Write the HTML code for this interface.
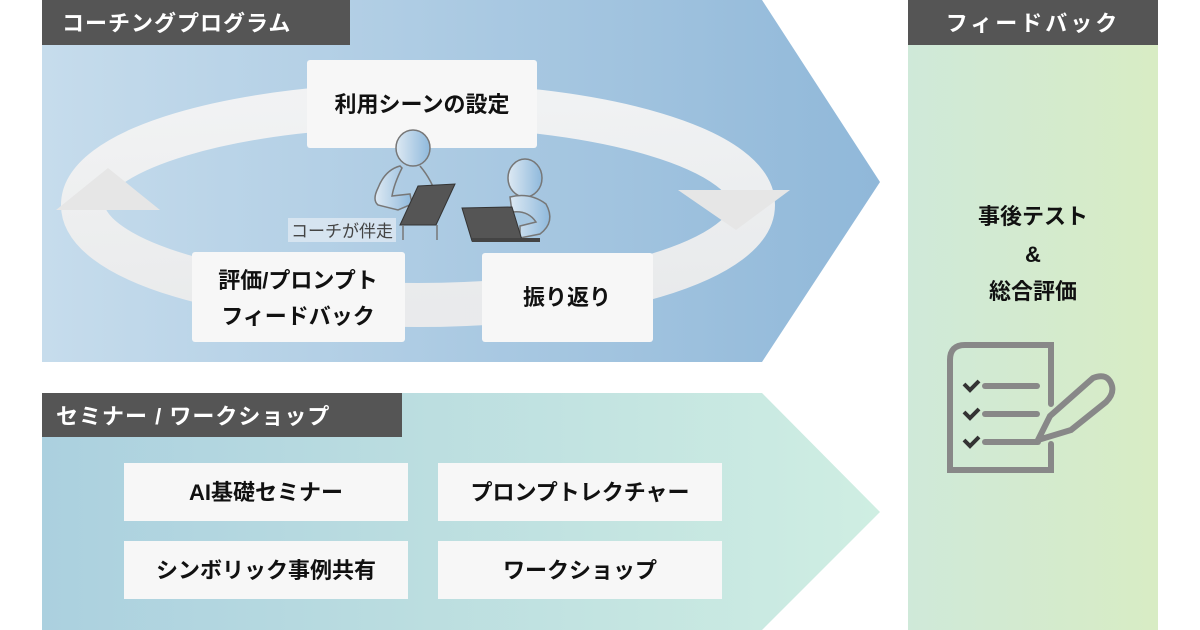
<!DOCTYPE html>
<html><head><meta charset="utf-8"><style>
html,body{margin:0;padding:0;background:#fff;width:1200px;height:630px;overflow:hidden}
svg text{font-family:"Liberation Sans","Noto Sans CJK JP",sans-serif;font-weight:bold}
</style></head><body>
<svg width="1200" height="630" viewBox="0 0 1200 630" xmlns="http://www.w3.org/2000/svg">
<defs>
<linearGradient id="g1" x1="0" x2="1" y1="0" y2="0"><stop offset="0" stop-color="#c6dcec"/><stop offset="1" stop-color="#90b8d9"/></linearGradient>
<linearGradient id="g2" x1="0" x2="1" y1="0" y2="0"><stop offset="0" stop-color="#abd0df"/><stop offset="1" stop-color="#cfeee2"/></linearGradient>
<linearGradient id="g3" x1="0" x2="1" y1="0" y2="0"><stop offset="0" stop-color="#cfe9d9"/><stop offset="1" stop-color="#d8ecc4"/></linearGradient>
<linearGradient id="ring" x1="0" x2="0" y1="0" y2="1"><stop offset="0" stop-color="#f4f4f4"/><stop offset="1" stop-color="#ececec"/></linearGradient>
<linearGradient id="hd" x1="0" x2="1" y1="0" y2="0"><stop offset="0" stop-color="#dde9f3"/><stop offset="1" stop-color="#8fb9dc"/></linearGradient>
</defs>
<polygon points="42,0 762,0 880,182 762,362 42,362" fill="url(#g1)"/>
<polygon points="42,393 762,393 880,512 762,630 42,630" fill="url(#g2)"/>
<rect x="908" y="0" width="250" height="630" fill="url(#g3)"/>
<ellipse cx="418" cy="205" rx="335" ry="100" fill="none" stroke="url(#ring)" stroke-width="44" opacity="0.95"/>
<polygon points="56,210 160,210 108,168" fill="#e6e6e6"/>
<polygon points="678,190 790,190 736,230" fill="#e6e6e6"/>
<rect x="42" y="0" width="308" height="45" fill="#555"/>
<text x="62" y="31" font-size="22" fill="#fff" letter-spacing="1">コーチングプログラム</text>
<rect x="42" y="393" width="360" height="44" fill="#555"/>
<text x="56" y="424" font-size="22" fill="#fff" letter-spacing="1">セミナー / ワークショップ</text>
<rect x="908" y="0" width="250" height="45" fill="#555"/>
<text x="1033" y="31" font-size="22" fill="#fff" text-anchor="middle" letter-spacing="3">フィードバック</text>
<g fill="#f7f7f7">
<rect x="307" y="60" width="230" height="88" rx="3"/>
<rect x="192" y="252" width="213" height="90" rx="3"/>
<rect x="482" y="253" width="171" height="89" rx="3"/>
<rect x="124" y="463" width="284" height="58"/>
<rect x="438" y="463" width="284" height="58"/>
<rect x="124" y="541" width="284" height="58"/>
<rect x="438" y="541" width="284" height="58"/>
</g>
<g stroke="#777" stroke-width="1.5">
<ellipse cx="413" cy="148" rx="17" ry="18" fill="url(#hd)"/>
<path d="M400,166 Q385,170 378,188 Q372,200 378,205 L398,210 L412,204 L410,194 L392,196 Q394,184 402,168 Z" fill="url(#hd)"/>
<path d="M420,166 Q432,180 438,200" fill="none"/>
<ellipse cx="525" cy="178" rx="17" ry="19" fill="url(#hd)"/>
<path d="M510,197 Q530,192 546,204 Q556,222 540,234 L520,238 L520,226 L536,222 Q528,210 512,212 Z" fill="url(#hd)"/>
</g>
<polygon points="418,186 455,184 436,225 400,225" fill="#555" stroke="#333"/>
<polygon points="462,208 512,207 522,240 472,241" fill="#555" stroke="#333"/>
<rect x="472" y="238" width="68" height="4" fill="#444"/>
<line x1="403" y1="225" x2="403" y2="240" stroke="#777" stroke-width="1.5"/>
<line x1="437" y1="225" x2="437" y2="240" stroke="#777" stroke-width="1.5"/>
<rect x="288" y="218" width="108" height="24" fill="#d9e6f1" opacity="0.9"/>
<text x="342" y="237" font-size="17" fill="#444" text-anchor="middle" style="font-weight:normal">コーチが伴走</text>
<g font-size="22" fill="#111" text-anchor="middle">
<text x="422" y="112">利用シーンの設定</text>
<text x="298" y="288">評価/プロンプト</text>
<text x="298" y="324">フィードバック</text>
<text x="567" y="305">振り返り</text>
<text x="266" y="500">AI基礎セミナー</text>
<text x="580" y="500">プロンプトレクチャー</text>
<text x="266" y="578">シンボリック事例共有</text>
<text x="580" y="578">ワークショップ</text>
<text x="1033" y="224">事後テスト</text>
<text x="1033" y="262">&amp;</text>
<text x="1033" y="299">総合評価</text>
</g>
<g fill="none" stroke="#888" stroke-width="6" stroke-linecap="round">
<path d="M1051,404 V345 H965 Q950,345 950,360 V470 H1051 V444"/>
<line x1="985" y1="386" x2="1037" y2="386"/>
<line x1="985" y1="414" x2="1037" y2="414"/>
<line x1="985" y1="442" x2="1038" y2="442"/>
<path d="M1038,440 L1050,416 L1093,378 Q1108,372 1112,386 Q1114,394 1106,402 L1071,430 Z" stroke-linejoin="round"/>
</g>
<g fill="none" stroke="#333" stroke-width="4">
<path d="M964,384 L970,390 L979,381"/>
<path d="M964,412 L970,418 L979,409"/>
<path d="M964,440 L970,446 L979,437"/>
</g>
</svg>
</body></html>
